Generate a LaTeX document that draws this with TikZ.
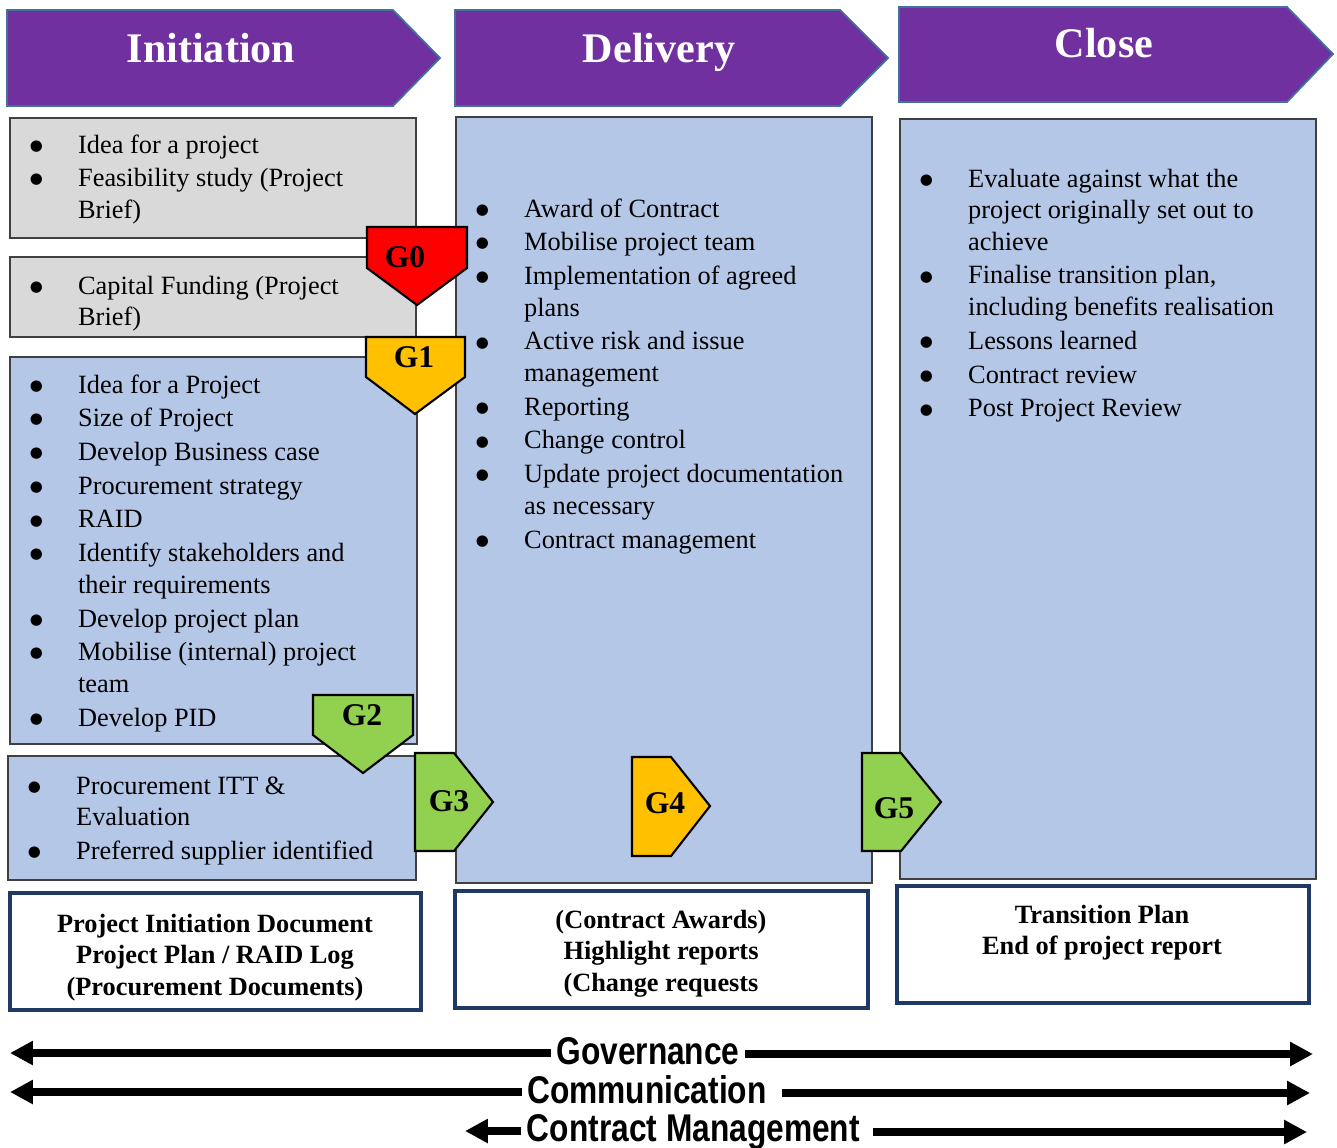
\documentclass[tikz,border=0pt]{standalone}
\usepackage{fontspec}
\setmainfont{Liberation Serif}
\setsansfont{Liberation Sans}
\newfontfamily\dotfont{DejaVu Sans}
\usepackage{graphicx}
\usetikzlibrary{positioning, arrows.meta}

\definecolor{phasepurple}{HTML}{7030A0}
\definecolor{phaseedge}{HTML}{41719C}
\definecolor{boxgray}{HTML}{D9D9D9}
\definecolor{boxblue}{HTML}{B4C7E7}
\definecolor{docedge}{HTML}{203864}
\definecolor{gatered}{HTML}{FF0000}
\definecolor{gategold}{HTML}{FFC000}
\definecolor{gategreen}{HTML}{92D050}

\newcommand{\bul}{\makebox[23.8pt][l]{\makebox[0pt]{\raisebox{1.6pt}{\fontsize{8.5}{9}\dotfont ●}}}}
\newcommand{\gap}{\hspace*{23.8pt}}

\begin{document}
\begin{tikzpicture}[x=0.02cm, y=-0.02cm,
	phase/.style={fill=phasepurple, draw=phaseedge, line width=1pt},
	phasetext/.style={anchor=base, inner sep=0pt, text=white, font=\fontsize{24}{29}\selectfont\bfseries},
	graybox/.style={fill=boxgray, draw=black!75, line width=0.8pt},
	bluebox/.style={fill=boxblue, draw=black!75, line width=0.8pt},
	listtext/.style={anchor=base west, inner sep=0pt, font=\fontsize{15}{18}\selectfont},
	docbox/.style={fill=white, draw=docedge, line width=2.8pt},
	doctext/.style={anchor=base, inner sep=0pt, font=\fontsize{15}{18}\selectfont\bfseries},
	gate/.style={draw=black, line width=1.2pt},
	gatetext/.style={anchor=base, inner sep=0pt, font=\fontsize{18}{20}\selectfont\bfseries},
	bar/.style={line width=4.7pt, -{Triangle[length=13pt, width=13pt]}},
	bartext/.style={anchor=base, fill=white, inner xsep=3pt, inner ysep=0pt, font=\sffamily\bfseries\fontsize{22}{24}\selectfont}]
	\useasboundingbox (0,0) rectangle (1337,1147);
	
	% phase headers
	\draw[phase] (7,10) -- (393,10) -- (440,58) -- (393,106) -- (7,106) -- cycle;
	\draw[phase] (455,10) -- (840,10) -- (888,58) -- (840,106) -- (455,106) -- cycle;
	\draw[phase] (899,7) -- (1287,7) -- (1333,54) -- (1287,102) -- (899,102) -- cycle;
	\node[phasetext] (init) at (211,62) {Initiation};
	\node[phasetext] (deliv) at (659,62) {Delivery};
	\node[phasetext] (close) at (1104,57) {Close};
	
	% stage boxes
	\draw[graybox] (10,118) rectangle (416,238);
	\draw[graybox] (10,257) rectangle (416,337);
	\draw[bluebox] (10,357) rectangle (417,744);
	\draw[bluebox] (8,756) rectangle (416,880);
	\draw[bluebox] (456,117) rectangle (872,883);
	\draw[bluebox] (900,119) rectangle (1316,879);
	
	\node[listtext] (idea) at (36,153) {\begin{tabular}[t]{@{}l@{}}
		\bul Idea for a project\\[1.2pt]
		\bul Feasibility study (Project\\
		\gap Brief)
	\end{tabular}};
	\node[listtext] (funding) at (36,294) {\begin{tabular}[t]{@{}l@{}}
		\bul Capital Funding (Project\\
		\gap Brief)
	\end{tabular}};
	\node[listtext] (pid) at (36,393) {\begin{tabular}[t]{@{}l@{}}
		\bul Idea for a Project\\[1.2pt]
		\bul Size of Project\\[1.2pt]
		\bul Develop Business case\\[1.2pt]
		\bul Procurement strategy\\[1.2pt]
		\bul RAID\\[1.2pt]
		\bul Identify stakeholders and\\
		\gap their requirements\\[1.2pt]
		\bul Develop project plan\\[1.2pt]
		\bul Mobilise (internal) project\\
		\gap team\\[1.2pt]
		\bul Develop PID
	\end{tabular}};
	\node[listtext] (itt) at (34,794) {\begin{tabular}[t]{@{}l@{}}
		\bul Procurement ITT \&\\
		\gap Evaluation\\[1.2pt]
		\bul Preferred supplier identified
	\end{tabular}};
	\node[listtext] (award) at (482,217) {\begin{tabular}[t]{@{}l@{}}
		\bul Award of Contract\\[1.2pt]
		\bul Mobilise project team\\[1.2pt]
		\bul Implementation of agreed\\
		\gap plans\\[1.2pt]
		\bul Active risk and issue\\
		\gap management\\[1.2pt]
		\bul Reporting\\[1.2pt]
		\bul Change control\\[1.2pt]
		\bul Update project documentation\\
		\gap as necessary\\[1.2pt]
		\bul Contract management
	\end{tabular}};
	\node[listtext] (evaluate) at (926,187) {\begin{tabular}[t]{@{}l@{}}
		\bul Evaluate against what the\\
		\gap project originally set out to\\
		\gap achieve\\[1.2pt]
		\bul Finalise transition plan,\\
		\gap including benefits realisation\\[1.2pt]
		\bul Lessons learned\\[1.2pt]
		\bul Contract review\\[1.2pt]
		\bul Post Project Review
	\end{tabular}};
	
	% gates
	\draw[gate, fill=gatered] (367,227) -- (467,227) -- (467,268) -- (417,305) -- (367,268) -- cycle;
	\draw[gate, fill=gategold] (366,337) -- (465,337) -- (465,377) -- (415,414) -- (366,377) -- cycle;
	\draw[gate, fill=gategreen] (313,695) -- (413,695) -- (413,735) -- (363,773) -- (313,735) -- cycle;
	\draw[gate, fill=gategreen] (415,753) -- (454,753) -- (493,802) -- (454,851) -- (415,851) -- cycle;
	\draw[gate, fill=gategold] (632,757) -- (671,757) -- (710,806) -- (671,856) -- (632,856) -- cycle;
	\draw[gate, fill=gategreen] (862,753) -- (901,753) -- (941,802) -- (901,851) -- (862,851) -- cycle;
	\node[gatetext] (g0) at (405,267) {G0};
	\node[gatetext] (g1) at (414,367) {G1};
	\node[gatetext] (g2) at (362,725) {G2};
	\node[gatetext] (g3) at (449,811) {G3};
	\node[gatetext] (g4) at (665,813) {G4};
	\node[gatetext] (g5) at (894,818) {G5};
	
	% documents
	\draw[docbox] (10,893) rectangle (421,1010);
	\draw[docbox] (455,891) rectangle (868,1008);
	\draw[docbox] (897,886) rectangle (1309,1003);
	\node[doctext] (pidoc) at (215,932) {\begin{tabular}[t]{@{}c@{}}
		Project Initiation Document\\
		Project Plan / RAID Log\\
		(Procurement Documents)
	\end{tabular}};
	\node[doctext] (reports) at (661,928) {\begin{tabular}[t]{@{}c@{}}
		(Contract Awards)\\
		Highlight reports\\
		(Change requests
	\end{tabular}};
	\node[doctext] (transition) at (1102,923) {\begin{tabular}[t]{@{}c@{}}
		Transition Plan\\
		End of project report
	\end{tabular}};
	
	% governance arrows
	\coordinate (govL) at (10,1053);
	\coordinate (govR) at (1313,1054);
	\coordinate (comL) at (10,1092);
	\coordinate (comR) at (1310,1093);
	\coordinate (conL) at (465,1131);
	\coordinate (conR) at (1307,1132);
	\node[bartext] (gov) at (648,1064) {\scalebox{0.82}[1]{Governance}};
	\node[bartext] (com) at (652,1103) {\scalebox{0.82}[1]{Communication\hspace{7pt}}};
	\node[bartext] (con) at (697,1141) {\scalebox{0.82}[1]{Contract Management\hspace{5pt}}};
	\draw[bar] (govL -| gov.west) -- (govL);
	\draw[bar] (gov.east |- govR) -- (govR);
	\draw[bar] (comL -| com.west) -- (comL);
	\draw[bar] (com.east |- comR) -- (comR);
	\draw[bar] (conL -| con.west) -- (conL);
	\draw[bar] (con.east |- conR) -- (conR);
	
\end{tikzpicture}
\end{document}
